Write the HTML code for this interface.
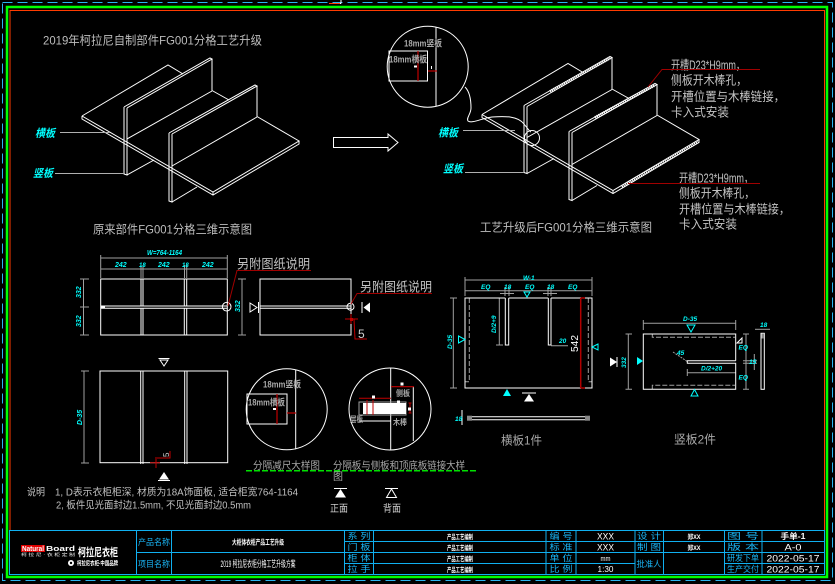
<!DOCTYPE html>
<html><head><meta charset="utf-8">
<style>
html,body{margin:0;padding:0;background:#000;}
svg{display:block;}
text{font-family:"Liberation Sans","Noto Sans CJK SC",sans-serif;}
</style></head><body>
<svg width="835" height="584" viewBox="0 0 835 584" xmlns="http://www.w3.org/2000/svg">
<rect width="835" height="584" fill="#000"/>

<!-- ===== FRAME ===== -->
<rect x="2.5" y="2.5" width="830" height="578" fill="none" stroke="#2ab4f0" stroke-width="1" stroke-dasharray="10,5"/>
<rect x="7" y="7" width="820" height="570" fill="none" stroke="#00ff00" stroke-width="2.5"/>
<polyline points="10,530 10,10.5 824.5,10.5 824.5,530" fill="none" stroke="#ff3c00" stroke-width="1"/>
<path d="M329,3.5 H341 M341,0 V3.5" stroke="#fff" stroke-width="1" fill="none"/>
<path d="M329,3.5 H340" stroke="#ff3c00" stroke-width="1"/>

<!-- ===== TOP TITLE ===== -->
<text x="43" y="44.5" font-size="12" fill="#bdbdbd" textLength="219" lengthAdjust="spacingAndGlyphs">2019年柯拉尼自制部件FG001分格工艺升级</text>

<!-- ===== LEFT ISO ===== -->
<g id="iso" stroke="#fff" stroke-width="1" fill="none">
  <!-- plate -->
  <path d="M82,116 L168,65 L183,74 M212,90.5 L229,100 M257,116.5 L299,141 L213,192 L82,116 M82,116 V119 L213,195 L299,144 V141 M213,192 V195"/>
  <!-- panel 1 -->
  <path d="M124,107 V174 L127,175 V108 M124,107 L210,58 L212,59 L127,108 M212,59 V91 M127,139 L212,91 M127,175 L154,160"/>
  <!-- panel 2 -->
  <path d="M169,133 V201 L172,202 V134 M169,133 L255,85 L257,86 L172,134 M257,86 V117 M172,166 L257,117 M172,202 L197,187"/>
</g>
<text x="35" y="137" font-size="11" font-weight="bold" font-style="italic" fill="#00ffff" textLength="20" lengthAdjust="spacingAndGlyphs">横板</text>
<line x1="60" y1="132.5" x2="110" y2="132.5" stroke="#b0b0b0" stroke-width="1"/>
<text x="33" y="177" font-size="11" font-weight="bold" font-style="italic" fill="#00ffff" textLength="20" lengthAdjust="spacingAndGlyphs">竖板</text>
<line x1="55" y1="173.5" x2="125" y2="173.5" stroke="#b0b0b0" stroke-width="1"/>
<text x="93" y="233.5" font-size="12" fill="#bdbdbd" textLength="159" lengthAdjust="spacingAndGlyphs">原来部件FG001分格三维示意图</text>

<!-- arrow -->
<path d="M333.5,137.5 H388 V134 L398,142.5 L388,151 V147.5 H333.5 Z" fill="none" stroke="#fff" stroke-width="1"/>

<!-- ===== RIGHT ISO ===== -->
<g transform="translate(400,-1.5)" stroke="#fff" stroke-width="1" fill="none">
  <path d="M82,116 L168,65 L183,74 M212,90.5 L229,100 M257,116.5 L299,141 L213,192 L82,116 M82,116 V119 L213,195 L299,144 V141 M213,192 V195"/>
  <path d="M124,107 V174 L127,175 V108 M124,107 L210,58 L212,59 L127,108 M212,59 V91 M127,139 L212,91 M127,175 L154,160"/>
  <path d="M169,133 V201 L172,202 V134 M169,133 L255,85 L257,86 L172,134 M257,86 V117 M172,166 L257,117 M172,202 L197,187"/>
  <!-- hatched edges -->
  <path d="M150,93 L210,59.5 M195,119 L255,86.5 M222,188.5 L298,143" stroke-width="3" stroke-dasharray="1.2,0.8"/>
</g>
<circle cx="532" cy="138" r="7.5" fill="none" stroke="#fff" stroke-width="1"/>
<path d="M465,87 C470,92 471,100 471,108 C471,114 466,118 468,121 C472,124 482,118 492,117 C505,116 518,116 524,124 C528,129 530,132 531,132" fill="none" stroke="#fff" stroke-width="1"/>
<text x="438" y="136.5" font-size="11" font-weight="bold" font-style="italic" fill="#00ffff" textLength="20" lengthAdjust="spacingAndGlyphs">横板</text>
<line x1="463" y1="130.5" x2="515" y2="130.5" stroke="#b0b0b0" stroke-width="1"/>
<text x="443" y="172.5" font-size="11" font-weight="bold" font-style="italic" fill="#00ffff" textLength="20" lengthAdjust="spacingAndGlyphs">竖板</text>
<line x1="465" y1="172.5" x2="524" y2="172.5" stroke="#b0b0b0" stroke-width="1"/>

<!-- top detail circle -->
<circle cx="427.7" cy="66.7" r="40.5" fill="none" stroke="#fff" stroke-width="1"/>
<line x1="436" y1="27" x2="436" y2="106.5" stroke="#fff" stroke-width="1"/>
<rect x="389" y="51" width="38.5" height="30" fill="none" stroke="#fff" stroke-width="1"/>
<line x1="418" y1="51" x2="418" y2="81" stroke="#c00000" stroke-width="1.2"/>
<line x1="428" y1="71" x2="437" y2="71" stroke="#c00000" stroke-width="1.2"/>
<rect x="414" y="65.5" width="3" height="2" fill="#fff"/>
<rect x="431" y="66" width="1" height="3" fill="#fff"/>
<text x="404" y="46.5" font-size="9" font-weight="bold" fill="#a8a8a8" textLength="38" lengthAdjust="spacingAndGlyphs">18mm竖板</text>
<text x="389" y="62.5" font-size="9" font-weight="bold" fill="#a8a8a8" textLength="38" lengthAdjust="spacingAndGlyphs">18mm横板</text>

<!-- annotations -->
<g fill="#c4c4c4" font-size="12.5">
<text x="671" y="69.5" textLength="74" lengthAdjust="spacingAndGlyphs">开槽D23*H9mm，</text>
<text x="671" y="84.5" textLength="76" lengthAdjust="spacingAndGlyphs">侧板开木棒孔，</text>
<text x="671" y="101" textLength="114" lengthAdjust="spacingAndGlyphs">开槽位置与木棒链接，</text>
<text x="671" y="116.5" textLength="58" lengthAdjust="spacingAndGlyphs">卡入式安装</text>
<text x="679" y="182.5" textLength="74" lengthAdjust="spacingAndGlyphs">开槽D23*H9mm，</text>
<text x="679" y="197.5" textLength="76" lengthAdjust="spacingAndGlyphs">侧板开木棒孔，</text>
<text x="679" y="213.5" textLength="111" lengthAdjust="spacingAndGlyphs">开槽位置与木棒链接，</text>
<text x="679" y="228.5" textLength="58" lengthAdjust="spacingAndGlyphs">卡入式安装</text>
</g>
<path d="M648,87 L662,69.5 H760" fill="none" stroke="#a00000" stroke-width="1"/>
<path d="M628,183.5 H760" fill="none" stroke="#a00000" stroke-width="1"/>
<text x="480" y="231.5" font-size="12" fill="#bdbdbd" textLength="172" lengthAdjust="spacingAndGlyphs">工艺升级后FG001分格三维示意图</text>

<!-- ===== MIDDLE-LEFT FRONT VIEW ===== -->
<g stroke="#a0a0a0" stroke-width="1" fill="none">
  <path d="M100.7,255 V278 M227.3,255 V278 M141,265 V278 M143,265 V278 M184.5,265 V278 M186.7,265 V278"/>
  <path d="M100.7,258 H227.3 M100.7,269 H227.3"/>
  <path d="M83.5,279 V335 M80,279 H89 M80,307 H89 M80,335 H89"/>
  <path d="M242,279 V335 M238,279 H246 M238,335 H246"/>
</g>
<g fill="#00ffff" font-size="7" font-style="italic" font-weight="bold">
  <text x="147" y="255" textLength="35" lengthAdjust="spacingAndGlyphs">W=764-1164</text>
  <text x="115" y="267">242</text>
  <text x="139" y="267" font-size="6">18</text>
  <text x="158" y="267">242</text>
  <text x="182" y="267" font-size="6">18</text>
  <text x="202" y="267">242</text>
  <text transform="translate(81,298) rotate(-90)">332</text>
  <text transform="translate(81,327) rotate(-90)">332</text>
  <text transform="translate(240,312) rotate(-90)">332</text>
</g>
<g stroke="#fff" stroke-width="1" fill="none">
  <rect x="100.7" y="279" width="126.6" height="56"/>
  <path d="M100.7,306 H227.3 M100.7,308.3 H227.3"/>
  <path d="M141,279 V306 M143,279 V306 M141,308.3 V335 M143,308.3 V335"/>
  <path d="M184.3,279 V306 M186.7,279 V306 M184.3,308.3 V335 M186.7,308.3 V335"/>
  <circle cx="226.7" cy="306.7" r="4.3"/>
  <rect x="260" y="279" width="91" height="56"/>
  <path d="M260,306 H351 M260,308.3 H351"/>
  <circle cx="350.5" cy="306.7" r="3.5"/>
  <polygon points="250,303 257,307.5 250,312"/>
  <path d="M258.5,302 V313"/>
  <path d="M362,302 V313"/>
</g>
<rect x="101" y="305.5" width="4" height="3" fill="#fff"/>
<polygon points="363.5,307.5 370,302.5 370,312.5" fill="#fff"/>
<path d="M228,306 L237,270.5 H311" fill="none" stroke="#a00000" stroke-width="1"/>
<text x="237" y="268.5" font-size="13" fill="#c4c4c4" textLength="73" lengthAdjust="spacingAndGlyphs">另附图纸说明</text>
<path d="M351,304 L357,293.5 H432" fill="none" stroke="#a00000" stroke-width="1"/>
<text x="360" y="291.5" font-size="13" fill="#c4c4c4" textLength="72" lengthAdjust="spacingAndGlyphs">另附图纸说明</text>
<path d="M345,319 H358 M351,314 V324 M354,319 L355,339 H367" fill="none" stroke="#c00000" stroke-width="1"/>
<rect x="350" y="318" width="3" height="3" fill="#c00000"/>
<text x="358" y="338" font-size="12" fill="#d0d0d0">5</text>

<!-- ===== BOTTOM-LEFT FRONT VIEW ===== -->
<g stroke="#a0a0a0" stroke-width="1" fill="none">
  <path d="M84,371 V463 M81,371 H89 M81,463 H89"/>
</g>
<text transform="translate(82,425) rotate(-90)" font-size="7" font-style="italic" font-weight="bold" fill="#00ffff">D-35</text>
<g stroke="#fff" stroke-width="1" fill="none">
  <rect x="100" y="371" width="127.7" height="91.7"/>
  <path d="M140.7,371 V464 M143,371 V464 M184.7,371 V464 M187,371 V464"/>
  <path d="M158.5,358.5 H169.5"/>
  <polygon points="160,360 168,360 164,366"/>
  <path d="M158,480.5 H170"/>
</g>
<polygon points="164,472 159,479.5 169,479.5" fill="#fff"/>
<path d="M150,462.7 H160 M156,457 V468 M157,458 H170 V451" fill="none" stroke="#c00000" stroke-width="1"/>
<text transform="translate(169,457) rotate(-90)" font-size="8" fill="#d0d0d0">5</text>

<!-- detail circle 1 -->
<circle cx="286.7" cy="409.3" r="40.5" fill="none" stroke="#fff" stroke-width="1"/>
<line x1="295.7" y1="369.5" x2="295.7" y2="449.3" stroke="#fff" stroke-width="1"/>
<rect x="247" y="394" width="40" height="30" fill="none" stroke="#fff" stroke-width="1"/>
<line x1="277" y1="394" x2="277" y2="424" stroke="#c00000" stroke-width="1.2"/>
<line x1="287" y1="413" x2="296" y2="413" stroke="#c00000" stroke-width="1.2"/>
<rect x="273" y="408" width="3" height="2" fill="#fff"/>
<text x="263" y="387.5" font-size="9" font-weight="bold" fill="#a8a8a8" textLength="38" lengthAdjust="spacingAndGlyphs">18mm竖板</text>
<text x="248" y="405.5" font-size="9" font-weight="bold" fill="#a8a8a8" textLength="37" lengthAdjust="spacingAndGlyphs">18mm横板</text>

<!-- detail circle 2 -->
<circle cx="390" cy="409" r="41" fill="none" stroke="#fff" stroke-width="1"/>
<line x1="390.7" y1="368" x2="390.7" y2="450" stroke="#fff" stroke-width="1"/>
<line x1="413.3" y1="386.7" x2="413.3" y2="441" stroke="#fff" stroke-width="1"/>
<line x1="391" y1="386.7" x2="414" y2="386.7" stroke="#c00000" stroke-width="1.2"/>
<rect x="400.5" y="382.5" width="3" height="3" fill="#fff"/>
<rect x="359" y="402" width="47" height="13" fill="none" stroke="#a0a0a0" stroke-width="1"/>
<rect x="363" y="403" width="43" height="11" fill="#fff"/>
<line x1="367" y1="400" x2="367" y2="415" stroke="#c00000" stroke-width="1"/>
<line x1="373" y1="400" x2="373" y2="415" stroke="#c00000" stroke-width="1"/>
<line x1="359" y1="398.3" x2="391" y2="398.3" stroke="#c00000" stroke-width="1"/>
<rect x="372" y="395.5" width="3" height="3" fill="#fff"/>
<rect x="397" y="400.5" width="3" height="3" fill="#fff"/>
<path d="M410,403 V413 M408.5,403 H411.5 M408.5,413 H411.5" stroke="#c00000" stroke-width="1" fill="none"/>
<rect x="408" y="407.5" width="3" height="3" fill="#fff"/>
<line x1="359" y1="421" x2="390.7" y2="421" stroke="#fff" stroke-width="1"/>
<g font-size="8" font-weight="bold" fill="#a8a8a8">
<text x="396" y="396" textLength="14" lengthAdjust="spacingAndGlyphs">侧板</text>
<text x="350" y="422" textLength="13" lengthAdjust="spacingAndGlyphs">层板</text>
<text x="393" y="425" textLength="14" lengthAdjust="spacingAndGlyphs">木棒</text>
</g>

<!-- captions -->
<text x="253" y="469" font-size="10" fill="#a8a8a8" textLength="67" lengthAdjust="spacingAndGlyphs">分隔减尺大样图</text>
<text x="333" y="469" font-size="10" fill="#a8a8a8" textLength="132" lengthAdjust="spacingAndGlyphs">分隔板与侧板和顶底板链接大样</text>
<text x="333" y="480" font-size="10" fill="#a8a8a8">图</text>
<line x1="246" y1="470.7" x2="478" y2="470.7" stroke="#00e000" stroke-width="1.5" stroke-dasharray="6,2"/>

<!-- view symbols -->
<path d="M334,488.5 H347" stroke="#fff" stroke-width="1"/>
<polygon points="340.5,489 335,497.5 346,497.5" fill="#fff"/>
<text x="330" y="512" font-size="10" fill="#d0d0d0" textLength="18" lengthAdjust="spacingAndGlyphs">正面</text>
<path d="M385,488.5 H398" stroke="#fff" stroke-width="1"/>
<polygon points="391.5,489 386.5,497.5 396.5,497.5" fill="none" stroke="#fff" stroke-width="1"/>
<text x="383" y="512" font-size="10" fill="#d0d0d0" textLength="18" lengthAdjust="spacingAndGlyphs">背面</text>

<!-- notes -->
<g font-size="10" fill="#c0c0c0">
<text x="27" y="495.5" textLength="18" lengthAdjust="spacingAndGlyphs">说明</text>
<text x="55" y="495.5" textLength="243" lengthAdjust="spacingAndGlyphs">1, D表示衣柜柜深, 材质为18A饰面板, 适合柜宽764-1164</text>
<text x="56" y="508.5" textLength="195" lengthAdjust="spacingAndGlyphs">2, 板件见光面封边1.5mm, 不见光面封边0.5mm</text>
</g>

<!-- ===== 横板 PART ===== -->
<g stroke="#a0a0a0" stroke-width="1" fill="none">
  <path d="M465,277 V296 M592,277 V296 M465,280 H592 M465,290.7 H592"/>
  <path d="M505,287 V296 M509,287 V296 M548,287 V296 M551,287 V296 M500,293.5 H514 M543,293.5 H557"/>
  <path d="M453.3,298 V388 M450,298 H457 M450,388 H457"/>
  <path d="M499.3,298 V345 M496,298 H503 M496,345 H503"/>
  <path d="M551,345.7 H568"/>
  <path d="M469.3,298 V381.7 H465 M588.3,298 V381.7 H592" stroke-dasharray="5,2"/>
</g>
<g stroke="#fff" stroke-width="1" fill="none">
  <path d="M505.3,298 H465 V388 H592 V298 H551 M548.3,298 H508.7"/>
  <path d="M505.3,298 V345 H508.7 V298 M548.3,298 V345 H551 V298"/>
  <path d="M468,416.7 H589 M468,419.7 H589"/>
  <path d="M462,410 V425"/>
</g>
<rect x="467" y="415.7" width="5" height="5" fill="#888"/>
<rect x="585" y="415.7" width="5" height="5" fill="#888"/>
<path d="M580.7,298 V388 M580.7,298 H585 M580.7,388 H585" stroke="#b00000" stroke-width="1.5" fill="none"/>
<text transform="translate(578,352) rotate(-90)" font-size="10" fill="#fff" textLength="17" lengthAdjust="spacingAndGlyphs">542</text>
<g fill="#00ffff" font-size="6.5" font-style="italic" font-weight="bold">
  <text x="523" y="280">W-1</text>
  <text x="481" y="289">EQ</text>
  <text x="504" y="289">18</text>
  <text x="525" y="289">EQ</text>
  <text x="547" y="289">18</text>
  <text x="568" y="289">EQ</text>
  <text transform="translate(452,349) rotate(-90)">D-35</text>
  <text transform="translate(496,333) rotate(-90)">D/2+9</text>
  <text x="559" y="343">20</text>
  <text x="455" y="421">18</text>
</g>
<polygon points="458.5,336 465,339.5 458.5,343" fill="none" stroke="#00ffff" stroke-width="1"/>
<polygon points="598,344 592,347 598,350" fill="none" stroke="#00ffff" stroke-width="1"/>
<polygon points="524,292 530,292 527,297" fill="none" stroke="#00ffff" stroke-width="1"/>
<polygon points="507,389 503,396 511,396" fill="#00ffff"/>
<path d="M522,393 H536" stroke="#fff" stroke-width="1"/>
<polygon points="529,394 524,401.5 534,401.5" fill="#fff"/>
<text x="501" y="444.5" font-size="12" fill="#a8a8a8" textLength="41" lengthAdjust="spacingAndGlyphs">横板1件</text>

<!-- ===== 竖板 PART ===== -->
<g stroke="#a0a0a0" stroke-width="1" fill="none">
  <path d="M643.3,320 V330 M735.7,320 V330 M643.3,323.3 H735.7"/>
  <path d="M628.3,334 V389.3 M625.5,334 H632 M625.5,389.3 H632"/>
  <path d="M687.3,369 V376 M687.3,372.7 H735.7"/>
  <path d="M746,334 V389.3 M743,334 H749 M743,360.7 H749 M743,363.3 H749 M743,389.3 H749"/>
  <path d="M754.3,354 V370 M749,360.7 H757 M749,363.3 H757"/>
  <path d="M755,329.3 H770"/>
  <path d="M652.3,334 V337.3 H735 M652.3,389.3 V385.3 H735" stroke-dasharray="5,2"/>
  <path d="M673,352 L688,362" stroke-dasharray="2,1"/>
</g>
<g stroke="#fff" stroke-width="1" fill="none">
  <path d="M735.7,360.7 V334 H643.3 V389.3 H735.7 V363.3 H687.3 V360.7 H735.7"/>
  <rect x="761" y="333.3" width="3.3" height="56"/>
  <polygon points="737,343 742,338 742,343"/>
  <path d="M617,357 V367"/>
</g>
<rect x="761.5" y="333.5" width="2.5" height="5" fill="#888"/>
<polygon points="610,357.5 617,362 610,366.5" fill="#fff"/>
<polygon points="637,357 643,361 637,365" fill="#00ffff"/>
<polygon points="687,325 695,325 691,332" fill="none" stroke="#00ffff" stroke-width="1"/>
<polygon points="694.5,389.5 691,396 698,396" fill="none" stroke="#00ffff" stroke-width="1"/>
<g fill="#00ffff" font-size="6.5" font-style="italic" font-weight="bold">
  <text x="683" y="321">D-35</text>
  <text x="677" y="355">45</text>
  <text transform="translate(626,368) rotate(-90)">332</text>
  <text x="701" y="370.5">D/2+20</text>
  <text x="738.5" y="349.5">EQ</text>
  <text x="738.5" y="379.5">EQ</text>
  <text x="749" y="364">15</text>
  <text x="760" y="327">18</text>
</g>
<text x="674" y="443.5" font-size="12" fill="#a8a8a8" textLength="42" lengthAdjust="spacingAndGlyphs">竖板2件</text>

<!-- ===== TITLE BLOCK ===== -->
<g stroke="#10b0f0" stroke-width="1" fill="none">
  <rect x="9.5" y="530.5" width="815" height="44"/>
  <path d="M136.5,530.5 V574.5 M171.5,530.5 V574.5 M344.5,530.5 V574.5 M373.5,530.5 V574.5 M546,530.5 V574.5 M576,530.5 V574.5 M635,530.5 V574.5 M663.5,530.5 V574.5 M724.5,530.5 V574.5 M762,530.5 V574.5"/>
  <path d="M344.5,541.5 H824.5 M136.5,552.5 H824.5 M344.5,563.5 H635 M724.5,563.5 H824.5"/>
</g>
<!-- logo -->
<rect x="21" y="545" width="24" height="7" fill="#e00000"/>
<text x="22" y="551" font-size="7" font-weight="bold" fill="#fff" textLength="22" lengthAdjust="spacingAndGlyphs">Natural</text>
<text x="46" y="551" font-size="7" font-weight="bold" fill="#fff" textLength="29" lengthAdjust="spacingAndGlyphs">Board</text>
<text x="21" y="556" font-size="4" fill="#fff" textLength="54" lengthAdjust="spacingAndGlyphs">柯 拉 尼 · 衣 柜 定 制</text>
<text x="78" y="556" font-size="11" font-weight="bold" fill="#fff" textLength="40" lengthAdjust="spacingAndGlyphs">柯拉尼衣柜</text>
<circle cx="71" cy="563" r="3" fill="#fff"/>
<circle cx="71" cy="563" r="1.2" fill="#000"/>
<text x="77" y="565.5" font-size="6" font-weight="bold" fill="#fff" textLength="41" lengthAdjust="spacingAndGlyphs">柯拉尼衣柜·中国品牌</text>

<g fill="#19b5f5" font-size="8.5" text-anchor="middle">
  <text x="154" y="545" textLength="32" lengthAdjust="spacingAndGlyphs">产品名称</text>
  <text x="154" y="567" textLength="32" lengthAdjust="spacingAndGlyphs">项目名称</text>
  <text x="359" y="539" textLength="23" lengthAdjust="spacingAndGlyphs">系 列</text>
  <text x="359" y="550" textLength="23" lengthAdjust="spacingAndGlyphs">门 板</text>
  <text x="359" y="561" textLength="23" lengthAdjust="spacingAndGlyphs">柜 体</text>
  <text x="359" y="572" textLength="23" lengthAdjust="spacingAndGlyphs">拉 手</text>
  <text x="561" y="539" textLength="23" lengthAdjust="spacingAndGlyphs">编 号</text>
  <text x="561" y="550" textLength="23" lengthAdjust="spacingAndGlyphs">标 准</text>
  <text x="561" y="561" textLength="23" lengthAdjust="spacingAndGlyphs">单 位</text>
  <text x="561" y="572" textLength="23" lengthAdjust="spacingAndGlyphs">比 例</text>
  <text x="649" y="539" textLength="24" lengthAdjust="spacingAndGlyphs">设 计</text>
  <text x="649" y="550" textLength="24" lengthAdjust="spacingAndGlyphs">制 图</text>
  <text x="649" y="567" textLength="25" lengthAdjust="spacingAndGlyphs">批准人</text>
  <text x="743" y="539" textLength="32" lengthAdjust="spacingAndGlyphs">图 号</text>
  <text x="743" y="550" textLength="32" lengthAdjust="spacingAndGlyphs">版 本</text>
  <text x="743" y="561" textLength="32" lengthAdjust="spacingAndGlyphs">研发下单</text>
  <text x="743" y="572" textLength="32" lengthAdjust="spacingAndGlyphs">生产交付</text>
</g>
<g fill="#fff" text-anchor="middle">
  <text x="258" y="544.5" font-size="7" font-weight="bold" textLength="52" lengthAdjust="spacingAndGlyphs">大柜体衣柜产品工艺升级</text>
  <text x="258" y="567" font-size="9" textLength="75" lengthAdjust="spacingAndGlyphs">2019 柯拉尼衣柜分格工艺升级方案</text>
  <text x="460" y="539" font-size="6.5" font-weight="bold" textLength="26" lengthAdjust="spacingAndGlyphs">产品工艺编制</text>
  <text x="460" y="550" font-size="6.5" font-weight="bold" textLength="26" lengthAdjust="spacingAndGlyphs">产品工艺编制</text>
  <text x="460" y="561" font-size="6.5" font-weight="bold" textLength="26" lengthAdjust="spacingAndGlyphs">产品工艺编制</text>
  <text x="460" y="572" font-size="6.5" font-weight="bold" textLength="26" lengthAdjust="spacingAndGlyphs">产品工艺编制</text>
  <text x="605.5" y="539.5" font-size="9" textLength="17" lengthAdjust="spacingAndGlyphs">XXX</text>
  <text x="605.5" y="550.5" font-size="9" textLength="17" lengthAdjust="spacingAndGlyphs">XXX</text>
  <text x="605.5" y="561" font-size="7" textLength="10" lengthAdjust="spacingAndGlyphs">mm</text>
  <text x="605.5" y="572" font-size="8.5" textLength="16" lengthAdjust="spacingAndGlyphs">1:30</text>
  <text x="694" y="539" font-size="6.5" font-weight="bold" textLength="13" lengthAdjust="spacingAndGlyphs">郑XX</text>
  <text x="694" y="550" font-size="6.5" font-weight="bold" textLength="13" lengthAdjust="spacingAndGlyphs">郑XX</text>
  <text x="793" y="539" font-size="8" font-weight="bold" textLength="25" lengthAdjust="spacingAndGlyphs">手单-1</text>
  <text x="793" y="550.5" font-size="9.5" textLength="17" lengthAdjust="spacingAndGlyphs">A-0</text>
  <text x="793" y="561.5" font-size="9.5" textLength="53" lengthAdjust="spacingAndGlyphs">2022-05-17</text>
  <text x="793" y="572.5" font-size="9.5" textLength="53" lengthAdjust="spacingAndGlyphs">2022-05-17</text>
</g>
</svg>
</body></html>
